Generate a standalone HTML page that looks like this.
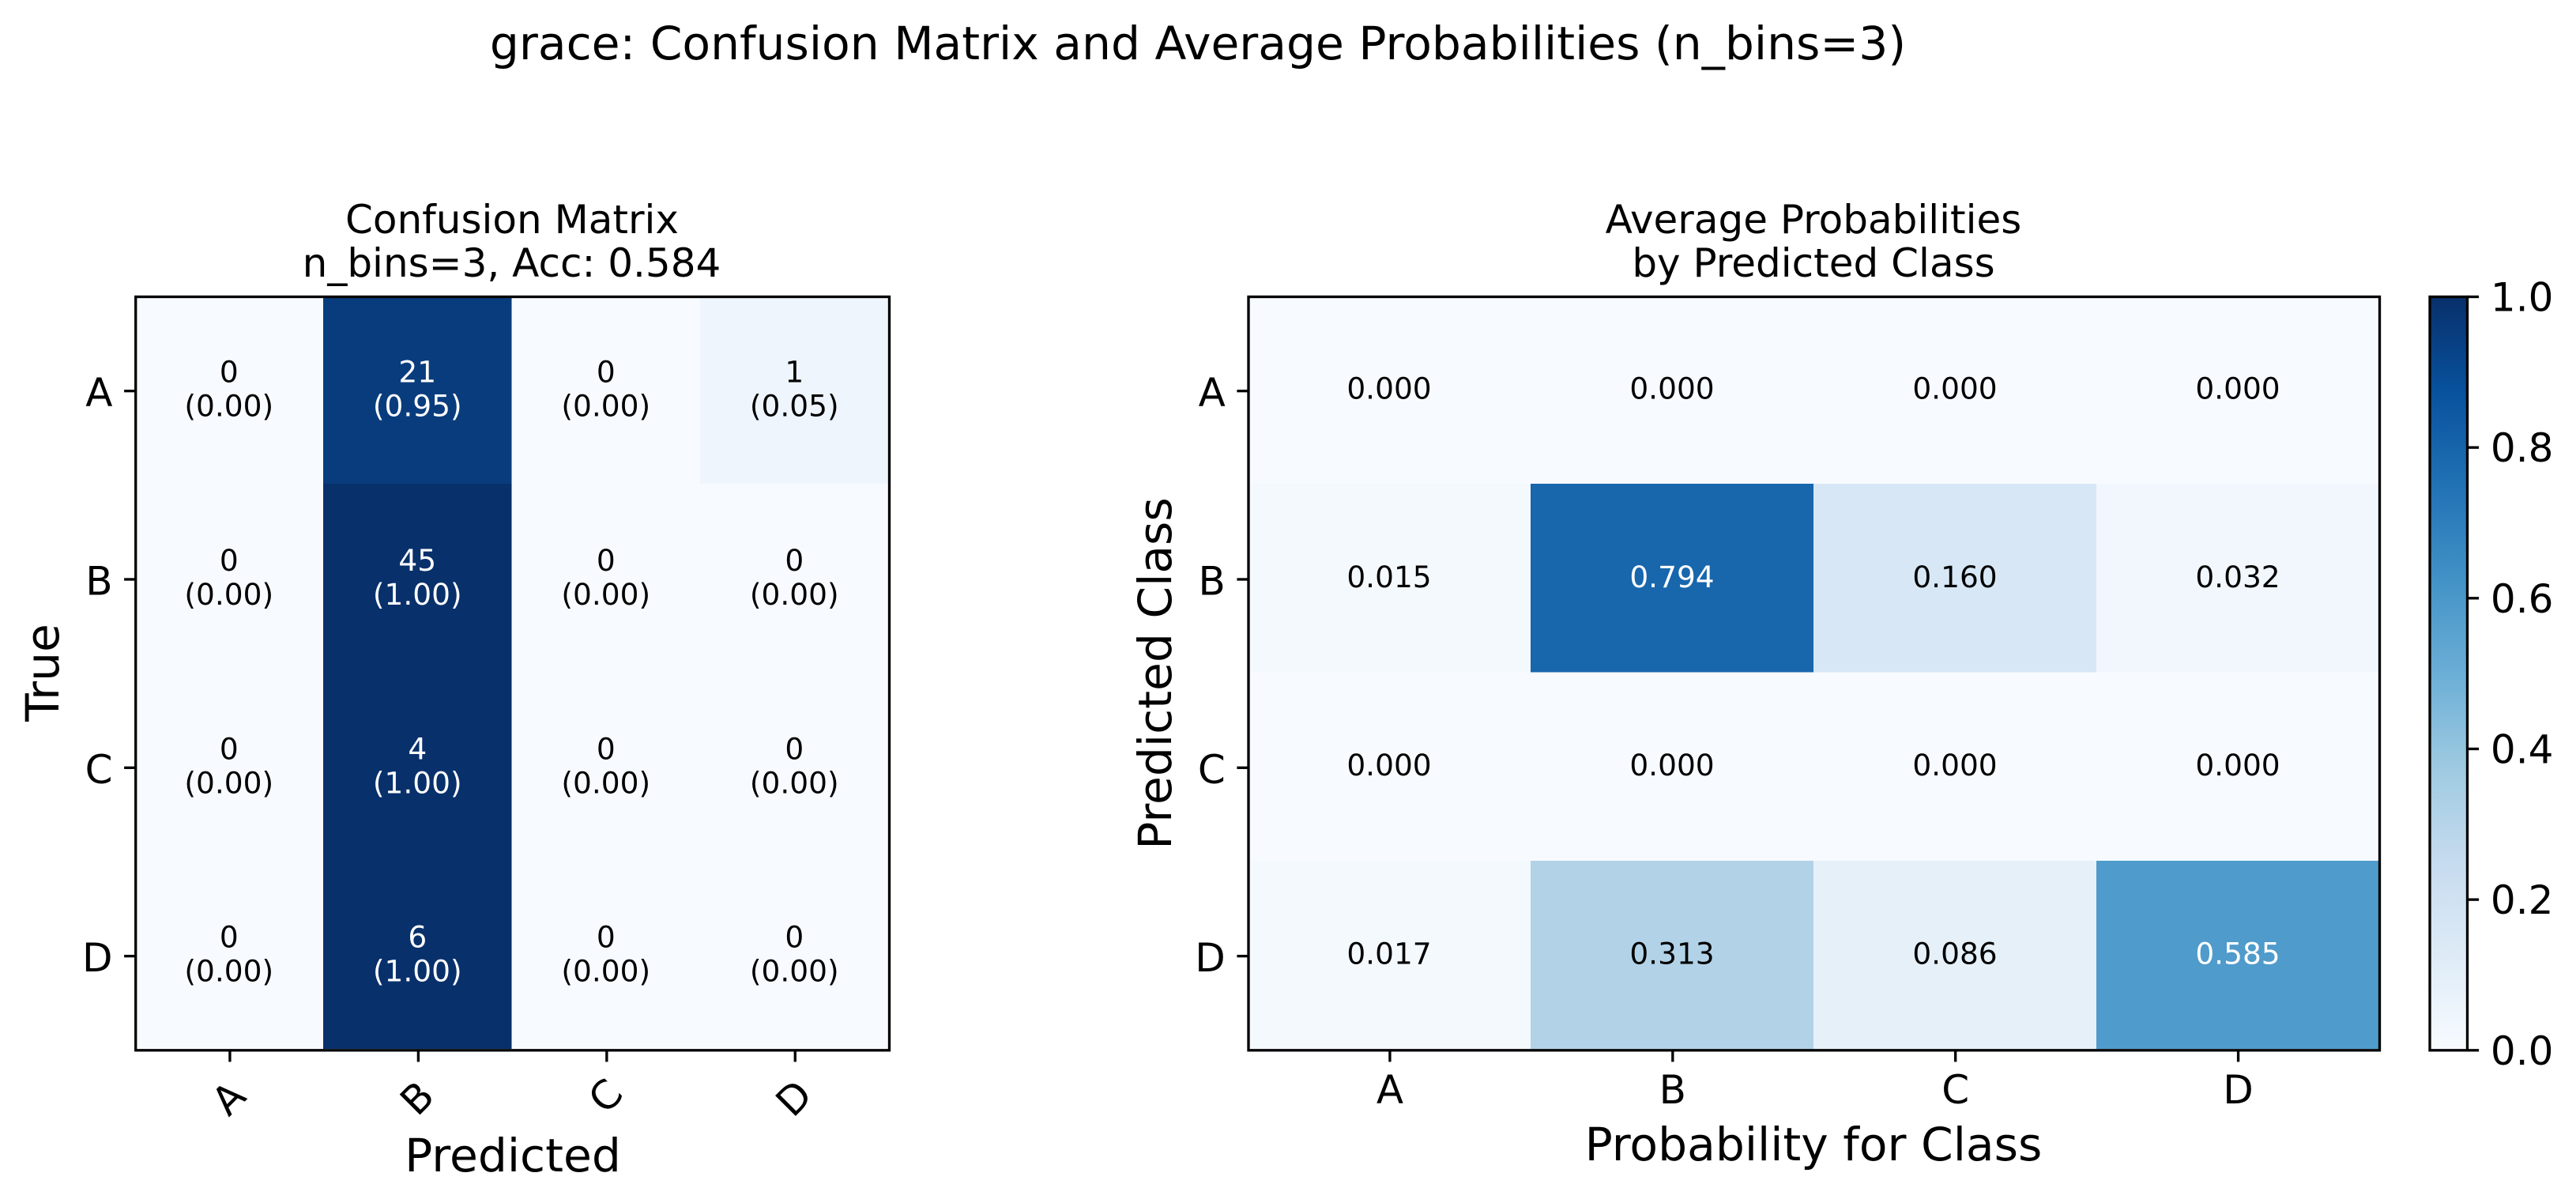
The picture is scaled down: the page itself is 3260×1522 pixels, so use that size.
<!DOCTYPE html>
<html lang="en">
<head>
<meta charset="utf-8">
<title>grace: Confusion Matrix and Average Probabilities</title>
<style>
html,body{margin:0;padding:0;background:#fff;}
svg{display:block;}
text{font-family:"DejaVu Sans","Liberation Sans",sans-serif;fill:#000;}
</style>
</head>
<body>
<svg id="figure" xmlns="http://www.w3.org/2000/svg" width="3260" height="1522" viewBox="0 0 3260 1522">
  <defs>
    <linearGradient id="cbar-gradient" x1="0" y1="1" x2="0" y2="0"></linearGradient>
  </defs>
  <rect x="0" y="0" width="3260" height="1522" fill="#fff"/>
  <text x="1516" y="75" font-size="58.3" text-anchor="middle">grace: Confusion Matrix and Average Probabilities (n_bins=3)</text>

  <text x="648" y="295" font-size="50" text-anchor="middle">Confusion Matrix</text>
  <text x="647.5" y="350" font-size="50" text-anchor="middle">n_bins=3, Acc: 0.584</text>
  <g id="confusion-cells"></g>
  <rect x="171.7" y="375.5" width="953.8" height="953.3" fill="none" stroke="#000" stroke-width="3.33"/>
  <g id="confusion-axis"></g>
  <text x="649" y="1482" font-size="58.3" text-anchor="middle">Predicted</text>
  <text transform="translate(74,851) rotate(-90)" font-size="58.3" text-anchor="middle">True</text>

  <text x="2295" y="295" font-size="50" text-anchor="middle">Average Probabilities</text>
  <text x="2295" y="350" font-size="50" text-anchor="middle">by Predicted Class</text>
  <g id="probability-cells"></g>
  <rect x="1580" y="375.5" width="1431.5" height="953.3" fill="none" stroke="#000" stroke-width="3.33"/>
  <g id="probability-axis"></g>
  <text x="2295" y="1468" font-size="58.3" text-anchor="middle">Probability for Class</text>
  <text transform="translate(1482,852) rotate(-90)" font-size="58.3" text-anchor="middle">Predicted Class</text>

  <rect x="3075" y="375.5" width="47.5" height="953.3" fill="url(#cbar-gradient)"/>
  <rect x="3075" y="375.5" width="47.5" height="953.3" fill="none" stroke="#000" stroke-width="3.33"/>
  <g id="colorbar-axis"></g>
</svg>
<script>
var classLabels = ["A", "B", "C", "D"];
var confusionCounts = [
  [0, 21, 0, 1],
  [0, 45, 0, 0],
  [0, 4, 0, 0],
  [0, 6, 0, 0]
];
var averageProbabilities = [
  [0.000, 0.000, 0.000, 0.000],
  [0.015, 0.794, 0.160, 0.032],
  [0.000, 0.000, 0.000, 0.000],
  [0.017, 0.313, 0.086, 0.585]
];
var colorbarTicks = [0.0, 0.2, 0.4, 0.6, 0.8, 1.0];
var bluesColormap = ["#f7fbff", "#deebf7", "#c6dbef", "#9ecae1", "#6baed6", "#4292c6", "#2171b5", "#08519c", "#08306b"];

var SVG_NS = "http://www.w3.org/2000/svg";
var plotTop = 375.5;
var plotBottom = 1328.8;
var cellTop = 373.8;
var cellBottom = 1327.2;
var confusionLeft = 171.7;
var confusionRight = 1125.5;
var confusionCellLeft = 170.5;
var confusionCellRight = 1124.5;
var probabilityLeft = 1580;
var probabilityRight = 3011.5;
var probabilityCellLeft = 1579;
var probabilityCellRight = 3011;
var colorbarRight = 3122.5;
var tickLength = 14.6;

function bandScale(start, end, count) {
  var step = (end - start) / count;
  return {
    step: step,
    edge: function (i) { return start + i * step; },
    center: function (i) { return start + (i + 0.5) * step; }
  };
}
function colorbarY(v) {
  return plotBottom - v * (plotBottom - plotTop);
}
function hexToRgb(h) {
  return [parseInt(h.slice(1, 3), 16), parseInt(h.slice(3, 5), 16), parseInt(h.slice(5, 7), 16)];
}
function bluesColor(v) {
  var t = Math.max(0, Math.min(1, v)) * (bluesColormap.length - 1);
  var i = Math.min(Math.floor(t), bluesColormap.length - 2);
  var f = t - i;
  var a = hexToRgb(bluesColormap[i]);
  var b = hexToRgb(bluesColormap[i + 1]);
  return "rgb(" + [0, 1, 2].map(function (k) { return Math.round(a[k] + (b[k] - a[k]) * f); }).join(",") + ")";
}
function make(tag, parent, attrs, content) {
  var node = document.createElementNS(SVG_NS, tag);
  Object.keys(attrs).forEach(function (k) { node.setAttribute(k, attrs[k]); });
  if (content !== undefined) { node.textContent = content; }
  parent.appendChild(node);
  return node;
}
function kebab(s) { return s.toLowerCase(); }

function drawCategoryAxes(group, prefix, left, right, rotateX) {
  var xs = bandScale(left, right, classLabels.length);
  var ys = bandScale(plotTop, plotBottom, classLabels.length);
  classLabels.forEach(function (label, i) {
    var xTick = make("line", group, {x1: xs.center(i), x2: xs.center(i), y1: plotBottom, y2: plotBottom + tickLength, stroke: "#000", "stroke-width": 3.33});
    
    
    var yTick = make("line", group, {x1: left - tickLength, x2: left, y1: ys.center(i), y2: ys.center(i), stroke: "#000", "stroke-width": 3.33});
    
    
    var xText;
    if (rotateX) {
      var labelY = label === "C" ? 1386 : 1389;
      xText = make("text", group, {transform: "translate(" + (xs.center(i) - 2) + "," + labelY + ") rotate(-45)", y: 18, "font-size": 50, "text-anchor": "middle"}, label);
    } else {
      xText = make("text", group, {x: xs.center(i), y: 1396, "font-size": 50, "text-anchor": "middle"}, label);
    }
    
    
    var yText = make("text", group, {x: left - 29.2, y: ys.center(i) + 19.5, "font-size": 50, "text-anchor": "end"}, label);
    
    
  });
}

function drawConfusion() {
  var cells = document.getElementById("confusion-cells");
  var xs = bandScale(confusionCellLeft, confusionCellRight, classLabels.length);
  var ys = bandScale(cellTop, cellBottom, classLabels.length);
  confusionCounts.forEach(function (row, r) {
    var total = row.reduce(function (a, b) { return a + b; }, 0);
    row.forEach(function (count, c) {
      var fraction = total ? count / total : 0;
      var id = kebab(classLabels[r]) + '-' + kebab(classLabels[c]);
      var cell = make("rect", cells, {x: xs.edge(c), y: ys.edge(r), width: xs.step, height: ys.step, fill: bluesColor(fraction), "shape-rendering": "crispEdges"});
      
      
      var color = fraction > 0.5 ? "#fff" : "#000";
      var countText = make("text", cells, {x: xs.center(c), y: ys.center(r) - 9.3, "font-size": 37.5, "text-anchor": "middle", style: "fill:" + color}, String(count));
      
      
      var fracText = make("text", cells, {x: xs.center(c), y: ys.center(r) + 33.7, "font-size": 37.5, "text-anchor": "middle", style: "fill:" + color}, "(" + fraction.toFixed(2) + ")");
      
      
    });
  });
  drawCategoryAxes(document.getElementById("confusion-axis"), "confusion", confusionLeft, confusionRight, true);
}

function drawProbabilities() {
  var cells = document.getElementById("probability-cells");
  var xs = bandScale(probabilityCellLeft, probabilityCellRight, classLabels.length);
  var ys = bandScale(cellTop, cellBottom, classLabels.length);
  averageProbabilities.forEach(function (row, r) {
    row.forEach(function (value, c) {
      var id = kebab(classLabels[r]) + '-' + kebab(classLabels[c]);
      var cell = make("rect", cells, {x: xs.edge(c), y: ys.edge(r), width: xs.step, height: ys.step, fill: bluesColor(value), "shape-rendering": "crispEdges"});
      
      
      var label = make("text", cells, {x: xs.center(c), y: ys.center(r) + 11.5, "font-size": 37.5, "text-anchor": "middle", style: "fill:" + (value > 0.5 ? "#fff" : "#000")}, value.toFixed(3));
      
      
    });
  });
  drawCategoryAxes(document.getElementById("probability-axis"), "probability", probabilityLeft, probabilityRight, false);
}

function drawColorbar() {
  var gradient = document.getElementById("cbar-gradient");
  bluesColormap.forEach(function (color, i) {
    make("stop", gradient, {offset: i / (bluesColormap.length - 1), "stop-color": color});
  });
  var axis = document.getElementById("colorbar-axis");
  colorbarTicks.forEach(function (value) {
    var name = value.toFixed(1).replace('.', '-');
    var tick = make("line", axis, {x1: colorbarRight, x2: colorbarRight + tickLength, y1: colorbarY(value), y2: colorbarY(value), stroke: "#000", "stroke-width": 3.33});
    
    
    var label = make("text", axis, {x: colorbarRight + 29.4, y: colorbarY(value) + 18, "font-size": 50}, value.toFixed(1));
    
    
  });
}

drawConfusion();
drawProbabilities();
drawColorbar();
</script>
</body>
</html>
